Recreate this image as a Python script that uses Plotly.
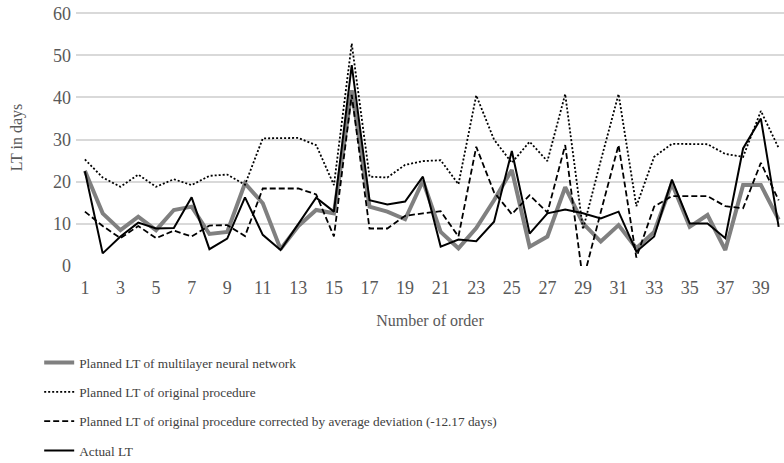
import plotly.graph_objects as go

orders = list(range(1, 41))

nn_planned = [22.6, 12.5, 8.5, 11.7, 8.5, 13.3, 14.1, 7.6, 8.1, 19.6,
              14.9, 4.0, 9.5, 13.3, 12.5, 41.7, 14.1, 12.9, 11.1, 20.2,
              8.1, 4.2, 9.0, 15.6, 22.8, 4.6, 7.0, 18.7, 10.1, 5.8,
              9.7, 4.2, 8.1, 19.6, 9.3, 12.1, 3.8, 19.2, 19.2, 11.0]

original_planned = [25.3, 21.0, 18.8, 21.7, 18.8, 20.6, 19.2, 21.4, 21.7, 19.3,
                    30.3, 30.4, 30.4, 28.7, 19.2, 52.8, 21.2, 21.0, 24.0, 24.9,
                    25.1, 19.4, 40.5, 30.0, 24.5, 29.5, 24.9, 40.8, 8.7, 25.0,
                    40.8, 14.2, 25.9, 29.0, 28.9, 28.9, 26.6, 25.9, 36.8, 28.0]

original_corrected = [12.9, 9.5, 6.6, 9.5, 6.6, 8.4, 7.0, 9.6, 9.7, 7.1,
                      18.4, 18.4, 18.4, 17.0, 7.0, 40.6, 8.9, 8.9, 11.9, 12.5,
                      13.0, 7.0, 28.3, 17.5, 12.3, 16.8, 12.7, 28.7, -3.5, 12.8,
                      28.7, 2.0, 14.1, 16.6, 16.6, 16.6, 14.2, 13.7, 24.5, 15.6]

actual = [22.5, 3.0, 7.0, 10.3, 8.9, 9.0, 16.3, 4.0, 6.5, 16.3,
          7.4, 3.8, 10.0, 16.2, 12.9, 47.7, 15.6, 14.6, 15.3, 21.2,
          4.6, 6.3, 5.9, 10.5, 27.3, 7.7, 12.5, 13.4, 12.5, 11.3,
          12.9, 3.4, 7.0, 20.5, 10.1, 10.1, 6.6, 27.9, 35.0, 9.3]

series_names = [
    "Planned LT of multilayer neural network",
    "Planned LT of original procedure",
    "Planned LT of original procedure corrected by average deviation (-12.17 days)",
    "Actual LT",
]

x_tick_vals = list(range(1, 40, 2))
y_tick_vals = [0, 10, 20, 30, 40, 50, 60]

FONT = "Liberation Serif, Times New Roman, serif"
GRAY_TEXT = "#595959"

fig = go.Figure()
styles = [
    dict(color="#808080", width=4, dash="solid"),
    dict(color="#000000", width=1.8, dash="2px,2px"),
    dict(color="#000000", width=1.8, dash="6px,3px"),
    dict(color="#000000", width=2, dash="solid"),
]
for i, (name, vals) in enumerate(zip(series_names,
                                     [nn_planned, original_planned, original_corrected, actual])):
    fig.add_trace(go.Scatter(x=orders, y=vals, mode="lines", name=name,
                             line=styles[i], legendgroup=f"g{i}"))

fig.update_layout(
    width=784, height=463,
    margin=dict(l=76, r=0, t=9, b=197, autoexpand=False),
    paper_bgcolor="white", plot_bgcolor="white",
    font=dict(family=FONT, color=GRAY_TEXT, size=16),
    showlegend=True,
    legend=dict(x=-0.052, xanchor="left", y=-0.317, yanchor="top",
                font=dict(family=FONT, size=13.3, color="#404040"),
                tracegroupgap=9, bgcolor="rgba(0,0,0,0)"),
    xaxis=dict(range=[0.5, 40.3], tickvals=x_tick_vals, ticktext=[str(v) for v in x_tick_vals],
               showgrid=False, zeroline=False, showline=False, ticks="", automargin=False,
               ticklabelstandoff=9, ticklabeloverflow="allow",
               tickfont=dict(size=18, color=GRAY_TEXT),
               title=dict(text="Number of order", standoff=17, font=dict(size=16, color=GRAY_TEXT))),
    yaxis=dict(range=[0, 61], tickvals=y_tick_vals, showgrid=True, gridcolor="#d9d9d9", gridwidth=1.5,
               zeroline=False, showline=False, ticks="", ticklabelstandoff=4, automargin=False,
               ticklabeloverflow="allow",
               tickfont=dict(size=18, color=GRAY_TEXT),
               title=dict(text="LT in days", standoff=26, font=dict(size=16, color=GRAY_TEXT))),
)

# remove the browser's default 8px page margin so the figure sits at the window origin
fig.write_html("out.html", config={"displayModeBar": False},
               post_script="document.body.style.margin='0px';")
